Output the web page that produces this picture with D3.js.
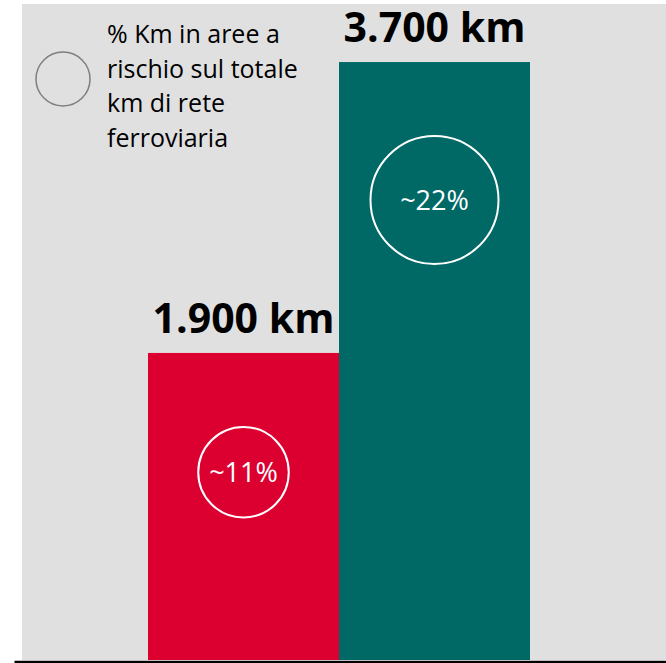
<!DOCTYPE html>
<html>
<head>
<meta charset="utf-8">
<script src="https://cdn.jsdelivr.net/npm/d3@7"></script>
<style>
  body { margin: 0; background: #ffffff; }
  svg { display: block; font-family: "Open Sans", "Noto Sans", sans-serif; }
</style>
</head>
<body>
<svg class="chart" width="666" height="663"></svg>
<script>
const categories = ['A', 'B']
const km = [1900, 3700]
const kmLabels = ['1.900 km', '3.700 km']
const share = [11, 22]
const shareLabels = ['~11%', '~22%']
const colors = ['#dc0030', '#006865']
const legendLines = ['% Km in aree a', 'rischio sul totale', 'km di rete', 'ferroviaria']

const svg = d3.select('.chart')

// sfondo grigio
svg.append('rect')
    .attr('x', 22).attr('y', 4)
    .attr('width', 644).attr('height', 656)
    .attr('fill', '#e0e0e0')

const x = d3.scaleBand(categories, [148, 530]).paddingInner(0)
const y = d3.scaleLinear([0, 4084], [660, 0])
const r = d3.scaleSqrt([0, 22], [0, 64])

const bars = svg.selectAll('g.bar')
    .data(categories)
    .join('g')
        .classed('bar', true)

bars.append('rect')
    .attr('x', d => x(d))
    .attr('y', (d, i) => y(km[i]))
    .attr('width', x.bandwidth())
    .attr('height', (d, i) => y(0) - y(km[i]))
    .attr('fill', (d, i) => colors[i])

bars.append('text')
    .text((d, i) => kmLabels[i])
    .attr('x', d => x(d) + x.bandwidth() / 2)
    .attr('y', (d, i) => y(km[i]) - 20)
    .attr('text-anchor', 'middle')
    .attr('font-size', '41px')
    .attr('font-weight', 'bold')
    .attr('fill', '#000000')

// cerchi percentuali
bars.append('circle')
    .attr('cx', d => x(d) + x.bandwidth() / 2)
    .attr('cy', (d, i) => y(km[i]) + 74 + r(share[i]))
    .attr('r', (d, i) => r(share[i]))
    .attr('fill', 'none')
    .attr('stroke', '#ffffff')
    .attr('stroke-width', 2)

bars.append('text')
    .text((d, i) => shareLabels[i])
    .attr('x', d => x(d) + x.bandwidth() / 2)
    .attr('y', (d, i) => y(km[i]) + 74 + r(share[i]))
    .attr('dy', '0.36em')
    .attr('text-anchor', 'middle')
    .attr('font-size', '27px')
    .attr('fill', '#ffffff')

// asse
const xAxis = d3.axisBottom(d3.scaleLinear([0, 1], [14, 666])).ticks(0).tickSize(0).tickFormat('')
svg.append('g')
    .attr('transform', 'translate(0, 661.5)')
    .call(xAxis)
    .call(g => g.select('.domain').attr('stroke', '#000000').attr('stroke-width', 2.5))

// legenda
svg.append('circle')
    .attr('cx', 63).attr('cy', 79).attr('r', 27)
    .attr('fill', 'none')
    .attr('stroke', '#7f7f7f')
    .attr('stroke-width', 1.5)

svg.append('g')
    .selectAll('text')
    .data(legendLines)
    .join('text')
        .text(d => d)
        .attr('x', 107)
        .attr('y', (d, i) => 43 + i * 34.7)
        .attr('font-size', '25px')
        .attr('fill', '#000000')
</script>
</body>
</html>
